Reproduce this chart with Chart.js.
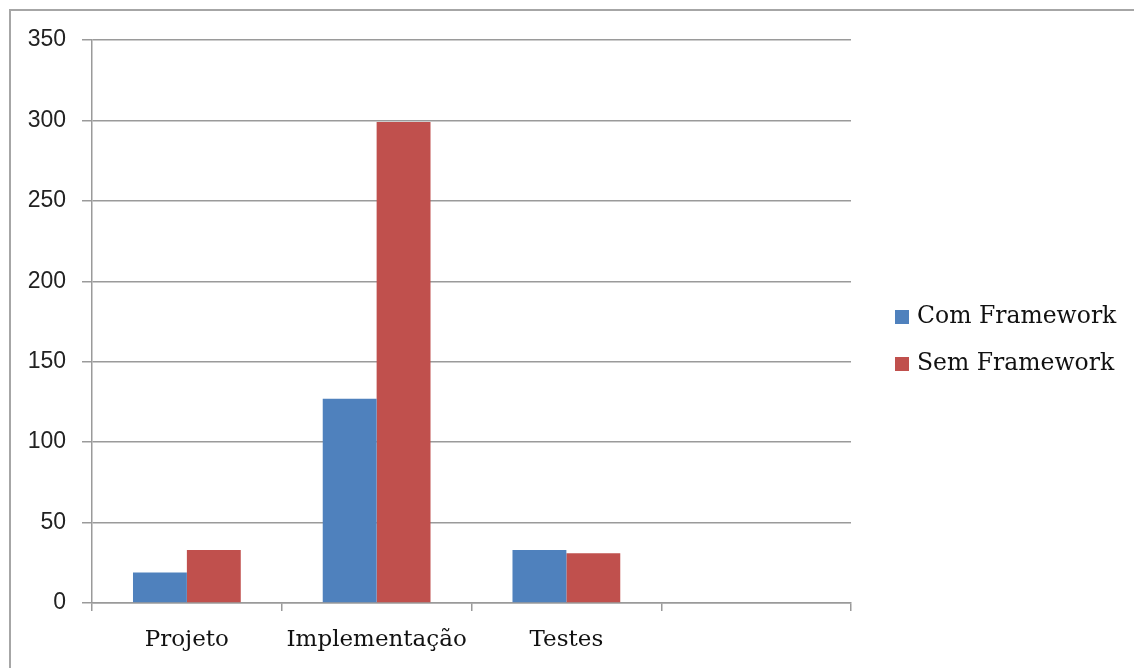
<!DOCTYPE html>
<html>
<head>
<meta charset="utf-8">
<script src="https://cdn.jsdelivr.net/npm/chart.js@4.4.1/dist/chart.umd.min.js"></script>
<style>
html,body{margin:0;padding:0;background:#fff;}
#wrap{position:relative;width:1134px;height:668px;}
</style>
</head>
<body>
<div id="wrap"><canvas id="c" width="1134" height="668"></canvas></div>
<script>
const categories = ['Projeto', 'Implementação', 'Testes', ''];
const comFramework = [19, 127, 33, null];
const semFramework = [33, 299, 31, null];
const seriesNames = ['Com Framework', 'Sem Framework'];
const seriesColors = ['#4F81BD', '#C0504D'];
const yTicks = [0, 50, 100, 150, 200, 250, 300, 350];

const serifFont = 'DejaVu Serif';
const sansFont = 'Liberation Sans';
const gridColor = '#9a9a9a';

const borderPlugin = {
  id: 'outerBorder',
  beforeDraw(chart) {
    const ctx = chart.ctx;
    ctx.save();
    ctx.fillStyle = '#fff';
    ctx.fillRect(0, 0, chart.width, chart.height);
    ctx.strokeStyle = '#a6a6a6';
    ctx.lineWidth = 2;
    ctx.strokeRect(10, 10, chart.width + 20, chart.height + 20);
    ctx.restore();
  }
};

const legendPlugin = {
  id: 'customLegend',
  afterDraw(chart) {
    const ctx = chart.ctx;
    const x0 = 895, y0 = 317, gap = 47, box = 14;
    ctx.save();
    ctx.font = '23.5px "' + serifFont + '"';
    ctx.textBaseline = 'middle';
    chart.data.datasets.forEach((ds, i) => {
      const y = y0 + i * gap;
      ctx.fillStyle = ds.backgroundColor;
      ctx.fillRect(x0, y - box / 2, box, box);
      ctx.fillStyle = '#111';
      ctx.fillText(ds.label, x0 + box + 8, y);
    });
    ctx.restore();
  }
};

new Chart(document.getElementById('c'), {
  type: 'bar',
  data: {
    labels: categories,
    datasets: [
      { label: seriesNames[0], data: comFramework, backgroundColor: seriesColors[0], borderWidth: 0 },
      { label: seriesNames[1], data: semFramework, backgroundColor: seriesColors[1], borderWidth: 0 }
    ]
  },
  options: {
    responsive: false,
    animation: false,
    devicePixelRatio: 1,
    categoryPercentage: 0.568,
    barPercentage: 1.0,
    layout: { padding: { left: 0, right: 283, top: 40, bottom: 0 } },
    plugins: { legend: { display: false }, tooltip: { enabled: false } },
    scales: {
      x: {
        afterFit: s => { s.height = 65; },
        grid: { offset: true, drawOnChartArea: false, drawTicks: true, tickLength: 8, color: gridColor, lineWidth: 1.5 },
        border: { color: gridColor, width: 1.5 },
        ticks: { color: '#111', font: { family: serifFont, size: 23 }, padding: 15 }
      },
      y: {
        min: 0, max: 350,
        afterFit: s => { s.width = 92; },
        afterBuildTicks: s => { s.ticks = yTicks.map(v => ({ value: v })); },
        grid: { color: gridColor, lineWidth: 1.5, tickLength: 10 },
        border: { color: gridColor, width: 1.5 },
        ticks: { color: '#222', font: { family: sansFont, size: 23 }, padding: 16 }
      }
    }
  },
  plugins: [borderPlugin, legendPlugin]
});
</script>
</body>
</html>
